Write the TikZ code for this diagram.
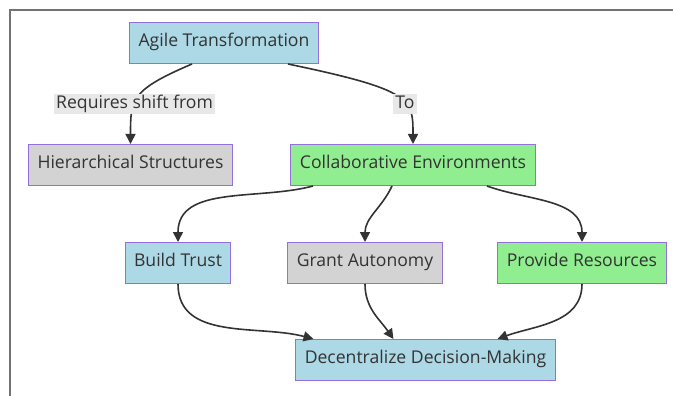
\documentclass[tikz,border=0pt]{standalone}
\usepackage{fontspec}
\setmainfont{Open Sans}
\usepackage{xcolor}
\usetikzlibrary{arrows.meta}

\definecolor{boxblue}{HTML}{ADD8E6}
\definecolor{boxgray}{HTML}{D3D3D3}
\definecolor{boxgreen}{HTML}{90EE90}
\definecolor{boxline}{HTML}{9370DB}
\definecolor{ink}{HTML}{333333}
\definecolor{lblbg}{HTML}{E8E8E8}

\begin{document}
\begin{tikzpicture}[
    x=1pt, y=-1pt,
    font=\fontsize{17.6}{21}\selectfont,
    box/.style={rectangle, draw=boxline, line width=1pt, text=ink,
                minimum height=41pt, inner xsep=9pt, inner ysep=4pt,
                text height=11.5pt, text depth=4.5pt},
    blue/.style={box, fill=boxblue},
    grey/.style={box, fill=boxgray},
    green/.style={box, fill=boxgreen},
    arr/.style={-{Triangle[length=10pt,width=10pt]}, line width=1.6pt, draw=ink},
    lbl/.style={fill=lblbg, text=ink, inner sep=2pt, text height=12.5pt, text depth=4pt}
]
\useasboundingbox (0,0) rectangle (673,396);

% ---- frame ----
\draw[black!55, line width=1.2pt] (673,10) -- (10,10) -- (10,396);

% ---- Nodes (absolute positions, px) ----
\node[blue]  (agile)  at (224,43)   {Agile Transformation};
\node[grey]  (hier)   at (130.5,165){Hierarchical Structures};
\node[green] (collab) at (413,165)  {Collaborative Environments};
\node[blue]  (trust)  at (178,263)  {Build Trust};
\node[grey]  (auton)  at (365,263)  {Grant Autonomy};
\node[green] (res)    at (582,263)  {Provide Resources};
\node[blue]  (decide) at (425.5,360){Decentralize Decision-Making};

% ---- Top level ----
\draw[arr] ([xshift=-32pt]agile.south) .. controls +(-61,26) and +(0,-45) ..
      node[lbl, pos=0.6] {Requires shift from} (hier.north);
\draw[arr] ([xshift=64pt]agile.south) .. controls +(125,26) and +(0,-45) ..
      node[lbl, pos=0.6] {To} (collab.north);

% ---- Collaboration enablers ----
\draw[arr] ([xshift=-100pt]collab.south) to[out=-165,in=90] (trust.north);
\draw[arr] ([xshift=-21pt]collab.south)  to[out=-115,in=90] (auton.north);
\draw[arr] ([xshift=74pt]collab.south)   to[out=-20,in=90]  (res.north);

% ---- Outcome ----
\draw[arr] (trust.south) to[out=-90,in=165] ([xshift=-112pt]decide.north);
\draw[arr] (auton.south) to[out=-90,in=125] ([xshift=-32pt]decide.north);
\draw[arr] (res.south)   to[out=-90,in=20]  ([xshift=72pt]decide.north);

\end{tikzpicture}
\end{document}
